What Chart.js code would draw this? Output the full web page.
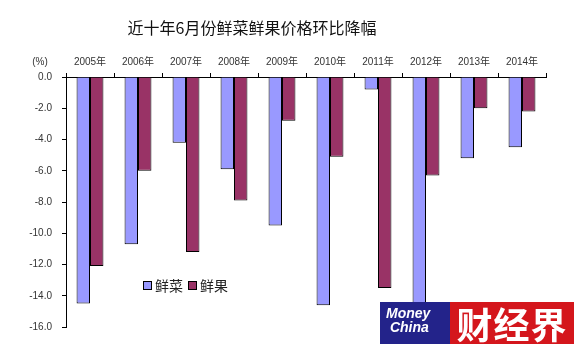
<!DOCTYPE html>
<html>
<head>
<meta charset="utf-8">
<title>近十年6月份鲜菜鲜果价格环比降幅</title>
<script src="https://cdn.jsdelivr.net/npm/chart.js@4/dist/chart.umd.min.js"></script>
<style>
  html, body { margin: 0; padding: 0; background: #fff; }
  #wrap { position: relative; width: 579px; height: 344px; }
  #logo { position: absolute; left: 380px; top: 302px; width: 194px; height: 42px; display: flex; }
  #logo .en { width: 70px; background: #23238a; color: #fff; font: italic bold 14px/14px "Liberation Sans", Arial, sans-serif; padding: 4px 0 0 6px; box-sizing: border-box; }
  #logo .cn { flex: 1; background: #d4161c; color: #fff; font: bold 36px/42px "Noto Sans CJK SC", sans-serif; text-align: center; letter-spacing: 1px; }
</style>
</head>
<body>
<div id="wrap">
  <canvas id="c" width="579" height="344"></canvas>
  <div id="logo"><div class="en">Money<br>&nbsp;China</div><div class="cn">财经界</div></div>
</div>
<script>
const years = ['2005年', '2006年', '2007年', '2008年', '2009年', '2010年', '2011年', '2012年', '2013年', '2014年'];
const vegetables = [-14.5, -10.7, -4.2, -5.9, -9.5, -14.6, -0.8, -15.2, -5.2, -4.5];
const fruits = [-12.1, -6.0, -11.2, -7.9, -2.8, -5.1, -13.5, -6.3, -2.0, -2.2];
const seriesNames = ['鲜菜', '鲜果'];
const titleText = '近十年6月份鲜菜鲜果价格环比降幅';

const cjk = '"Liberation Sans", "Noto Sans CJK SC", sans-serif';

// title, unit label and legend drawn by hand
const extras = {
    id: 'extras',
    afterDraw(chart) {
        const ctx = chart.ctx;
        ctx.save();
        ctx.fillStyle = '#111';
        ctx.font = '16px "Noto Sans CJK SC", sans-serif';
        ctx.textAlign = 'center';
        ctx.textBaseline = 'middle';
        ctx.fillText(titleText, 252, 28);

        ctx.fillStyle = '#333';
        ctx.font = '10px ' + cjk;
        ctx.fillText('(%)', 40, 62);

        ctx.textAlign = 'left';
        ctx.font = '14px "Noto Sans CJK SC", sans-serif';
        let x = 143;
        const y = 285;
        chart.data.datasets.forEach(ds => {
            ctx.fillStyle = ds.backgroundColor;
            ctx.strokeStyle = '#000';
            ctx.lineWidth = 1;
            ctx.fillRect(x, y - 4, 8, 8);
            ctx.strokeRect(x + 0.5, y - 3.5, 8, 8);
            ctx.fillStyle = '#222';
            ctx.fillText(ds.label, x + 12, y + 1);
            x += 45;
        });
        ctx.restore();
    }
};

new Chart(document.getElementById('c'), {
    type: 'bar',
    data: {
        labels: years,
        datasets: [
            { label: seriesNames[0], data: vegetables, backgroundColor: '#9999ff', borderColor: '#000', borderWidth: 1 },
            { label: seriesNames[1], data: fruits, backgroundColor: '#993366', borderColor: '#000', borderWidth: 1 }
        ]
    },
    options: {
        responsive: false,
        animation: false,
        layout: { padding: { top: 50, right: 33, bottom: 17, left: 0 } },
        datasets: { bar: { categoryPercentage: 0.56, barPercentage: 1.0 } },
        plugins: { legend: { display: false }, title: { display: false }, tooltip: { enabled: false } },
        scales: {
            x: {
                position: 'top',
                grid: { drawOnChartArea: false, tickLength: 4, color: '#000', offset: true },
                border: { color: '#000' },
                ticks: { color: '#333', font: { size: 10, family: cjk }, padding: 5, maxRotation: 0 },
                afterFit(scale) { scale.height = 27; }
            },
            y: {
                min: -16, max: 0,
                grid: { drawOnChartArea: false, tickLength: 4, color: '#000' },
                border: { color: '#000' },
                ticks: { stepSize: 2, color: '#333', font: { size: 10, family: cjk }, padding: 10,
                    callback: v => v.toFixed(1) },
                afterFit(scale) { scale.width = 66; }
            }
        }
    },
    plugins: [extras]
});
</script>
</body>
</html>
